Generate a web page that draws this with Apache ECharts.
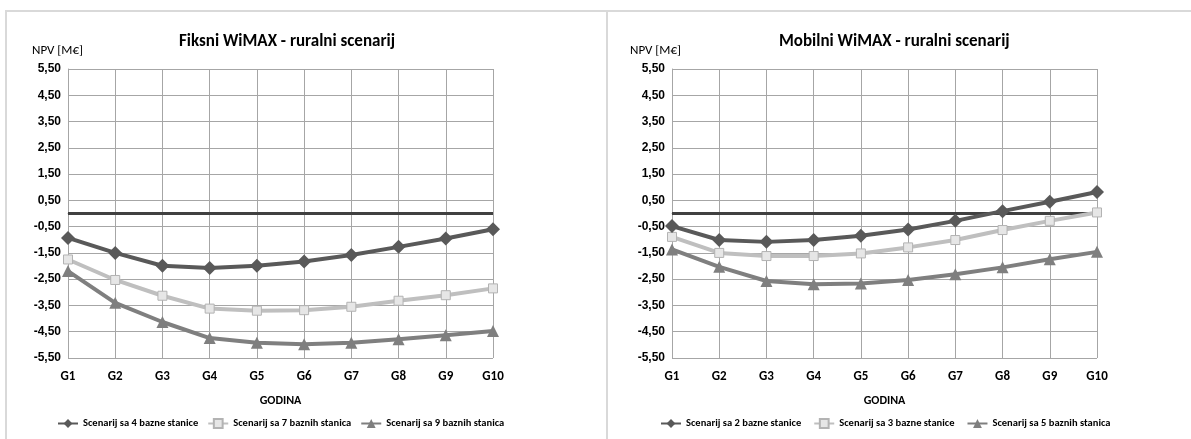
<!DOCTYPE html>
<html>
<head>
<meta charset="utf-8">
<script src="https://cdn.jsdelivr.net/npm/echarts@6/dist/echarts.min.js"></script>
<style>
  html, body { margin: 0; padding: 0; background: #fff; }
  #chart { width: 1191px; height: 439px; position: absolute; left: 0; top: 0; }
  .panel { position: absolute; top: 10px; height: 440px; border: 2px solid #d9d9d9; border-bottom: none; border-right: none; }
</style>
</head>
<body>
<div class="panel" style="left:5px; width:600px;"></div>
<div class="panel" style="left:606px; width:590px;"></div>
<div id="chart"></div>
<script>
// kategorije (godine)
const godine = ['G1', 'G2', 'G3', 'G4', 'G5', 'G6', 'G7', 'G8', 'G9', 'G10'];

// Fiksni WiMAX - ruralni scenarij
const fiksni4 = [-0.93, -1.50, -1.99, -2.07, -1.99, -1.83, -1.58, -1.27, -0.95, -0.60];
const fiksni7 = [-1.75, -2.53, -3.13, -3.62, -3.70, -3.68, -3.55, -3.32, -3.11, -2.85];
const fiksni9 = [-2.19, -3.40, -4.13, -4.74, -4.92, -4.98, -4.92, -4.79, -4.63, -4.47];

// Mobilni WiMAX - ruralni scenarij
const mobilni2 = [-0.48, -1.01, -1.08, -1.01, -0.85, -0.61, -0.28, 0.09, 0.45, 0.82];
const mobilni3 = [-0.89, -1.50, -1.62, -1.62, -1.52, -1.29, -1.01, -0.63, -0.28, 0.04];
const mobilni5 = [-1.37, -2.03, -2.57, -2.69, -2.66, -2.53, -2.31, -2.05, -1.74, -1.46];

const nazivi1 = ['Scenarij sa 4 bazne stanice', 'Scenarij sa 7 baznih stanica', 'Scenarij sa 9 baznih stanica'];
const nazivi2 = ['Scenarij sa 2 bazne stanice', 'Scenarij sa 3 bazne stanice', 'Scenarij sa 5 baznih stanica'];

const boje = ['#595959', '#bfbfbf', '#7f7f7f'];
const simboli = ['diamond', 'rect', 'triangle'];
const velicine = [14, 9, 12];
const gridBoja = '#a6a6a6';
const font = 'Carlito, "Liberation Sans", Arial, sans-serif';

function napraviSeriju(ime, podaci, i, idx) {
  const s = {
    name: ime,
    type: 'line',
    xAxisIndex: idx,
    yAxisIndex: idx,
    data: podaci,
    symbol: simboli[i],
    symbolSize: velicine[i],
    showSymbol: true,
    lineStyle: { color: boje[i], width: 4 },
    itemStyle: i === 1
      ? { color: '#e6e6e6', borderColor: '#b3b3b3', borderWidth: 1 }
      : { color: boje[i] },
    emphasis: { disabled: true },
    z: 10 - i
  };
  if (i === 0) {
    // tamna linija na nuli
    s.markLine = {
      silent: true,
      symbol: 'none',
      label: { show: false },
      lineStyle: { color: '#404040', width: 3, type: 'solid' },
      data: [{ yAxis: 0 }]
    };
  }
  return s;
}

function xOs(idx) {
  return {
    type: 'category',
    gridIndex: idx,
    data: godine,
    boundaryGap: false,
    name: 'GODINA',
    nameLocation: 'middle',
    nameGap: 37,
    nameTextStyle: { fontFamily: font, fontWeight: 'bold', fontSize: 12, color: '#000' },
    axisLine: { lineStyle: { color: gridBoja, width: 1 } },
    axisTick: { show: false },
    axisLabel: { fontFamily: font, fontWeight: 'bold', fontSize: 13, color: '#000', margin: 12 },
    splitLine: { show: true, lineStyle: { color: gridBoja, width: 1 } }
  };
}

function yOs(idx) {
  return {
    type: 'value',
    gridIndex: idx,
    min: -5.5,
    max: 5.5,
    interval: 1,
    axisLine: { show: true, lineStyle: { color: gridBoja, width: 1 } },
    axisTick: { show: false },
    axisLabel: {
      fontFamily: '"Liberation Sans", Arial, sans-serif',
      fontWeight: 'bold',
      fontSize: 12,
      color: '#000',
      margin: 7,
      formatter: v => v.toFixed(2).replace('.', ',')
    },
    splitLine: { show: true, lineStyle: { color: gridBoja, width: 1 } }
  };
}

const chart = echarts.init(document.getElementById('chart'));

const legendaTekst = { fontFamily: font, fontWeight: 'bold', fontSize: 10.5, color: '#000' };

chart.setOption({
  animation: false,
  title: [
    { text: 'Fiksni WiMAX - ruralni scenarij', left: 174, top: 28,
      textStyle: { fontFamily: font, fontWeight: 'bold', fontSize: 17, color: '#000' } },
    { text: 'Mobilni WiMAX - ruralni scenarij', left: 774, top: 28,
      textStyle: { fontFamily: font, fontWeight: 'bold', fontSize: 17, color: '#000' } },
    { text: 'NPV [M€]', left: 27, top: 39,
      textStyle: { fontFamily: font, fontWeight: 'normal', fontSize: 13, color: '#000' } },
    { text: 'NPV [M€]', left: 625, top: 39,
      textStyle: { fontFamily: font, fontWeight: 'normal', fontSize: 13, color: '#000' } }
  ],
  legend: [
    { data: nazivi1, left: 52, top: 413, width: 520, itemWidth: 20, itemHeight: 11, itemGap: 9,
      textStyle: legendaTekst },
    { data: nazivi2, left: 655, top: 413, width: 520, itemWidth: 20, itemHeight: 11, itemGap: 12,
      textStyle: legendaTekst }
  ],
  grid: [
    { left: 68, right: 698, top: 69, bottom: 81 },
    { left: 672, right: 94, top: 69, bottom: 81 }
  ],
  xAxis: [xOs(0), xOs(1)],
  yAxis: [yOs(0), yOs(1)],
  series: [
    napraviSeriju(nazivi1[0], fiksni4, 0, 0),
    napraviSeriju(nazivi1[1], fiksni7, 1, 0),
    napraviSeriju(nazivi1[2], fiksni9, 2, 0),
    napraviSeriju(nazivi2[0], mobilni2, 0, 1),
    napraviSeriju(nazivi2[1], mobilni3, 1, 1),
    napraviSeriju(nazivi2[2], mobilni5, 2, 1)
  ]
});
</script>
</body>
</html>
